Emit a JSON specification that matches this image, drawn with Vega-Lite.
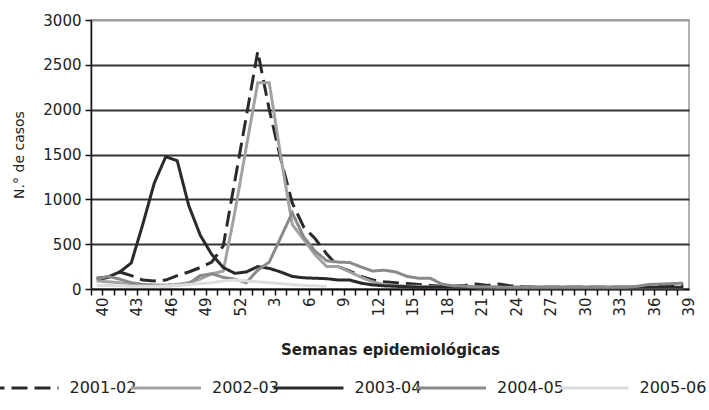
{
  "$schema": "https://vega.github.io/schema/vega-lite/v6.json",
  "width": 598,
  "height": 269,
  "autosize": {"type": "none"},
  "padding": {"left": 91, "top": 20, "right": 20, "bottom": 121},
  "config": {"font": "DejaVu Sans", "view": {"stroke": "#9a9a9a", "strokeWidth": 1.5}},
  "data": {"values": [
    {"semana":"40","temporada":"2001-02","casos":100},{"semana":"41","temporada":"2001-02","casos":130},{"semana":"42","temporada":"2001-02","casos":190},{"semana":"43","temporada":"2001-02","casos":150},{"semana":"44","temporada":"2001-02","casos":100},{"semana":"45","temporada":"2001-02","casos":90},{"semana":"46","temporada":"2001-02","casos":100},{"semana":"47","temporada":"2001-02","casos":150},{"semana":"48","temporada":"2001-02","casos":190},{"semana":"49","temporada":"2001-02","casos":240},{"semana":"50","temporada":"2001-02","casos":300},{"semana":"51","temporada":"2001-02","casos":480},{"semana":"52","temporada":"2001-02","casos":1200},
    {"semana":"1","temporada":"2001-02","casos":1920},{"semana":"2","temporada":"2001-02","casos":2650},{"semana":"3","temporada":"2001-02","casos":2000},{"semana":"4","temporada":"2001-02","casos":1450},{"semana":"5","temporada":"2001-02","casos":960},{"semana":"6","temporada":"2001-02","casos":690},{"semana":"7","temporada":"2001-02","casos":560},{"semana":"8","temporada":"2001-02","casos":390},{"semana":"9","temporada":"2001-02","casos":250},{"semana":"10","temporada":"2001-02","casos":200},{"semana":"11","temporada":"2001-02","casos":140},{"semana":"12","temporada":"2001-02","casos":100},{"semana":"13","temporada":"2001-02","casos":80},{"semana":"14","temporada":"2001-02","casos":70},{"semana":"15","temporada":"2001-02","casos":60},{"semana":"16","temporada":"2001-02","casos":50},{"semana":"17","temporada":"2001-02","casos":40},{"semana":"18","temporada":"2001-02","casos":30},{"semana":"19","temporada":"2001-02","casos":30},{"semana":"20","temporada":"2001-02","casos":40},{"semana":"21","temporada":"2001-02","casos":55},{"semana":"22","temporada":"2001-02","casos":40},{"semana":"23","temporada":"2001-02","casos":55},{"semana":"24","temporada":"2001-02","casos":35},{"semana":"25","temporada":"2001-02","casos":25},{"semana":"26","temporada":"2001-02","casos":20},{"semana":"27","temporada":"2001-02","casos":20},{"semana":"28","temporada":"2001-02","casos":20},{"semana":"29","temporada":"2001-02","casos":20},{"semana":"30","temporada":"2001-02","casos":20},{"semana":"31","temporada":"2001-02","casos":20},{"semana":"32","temporada":"2001-02","casos":20},{"semana":"33","temporada":"2001-02","casos":20},{"semana":"34","temporada":"2001-02","casos":20},{"semana":"35","temporada":"2001-02","casos":25},{"semana":"36","temporada":"2001-02","casos":30},{"semana":"37","temporada":"2001-02","casos":30},{"semana":"38","temporada":"2001-02","casos":35},{"semana":"39","temporada":"2001-02","casos":40},

    {"semana":"40","temporada":"2002-03","casos":90},{"semana":"41","temporada":"2002-03","casos":80},{"semana":"42","temporada":"2002-03","casos":70},{"semana":"43","temporada":"2002-03","casos":60},{"semana":"44","temporada":"2002-03","casos":50},{"semana":"45","temporada":"2002-03","casos":45},{"semana":"46","temporada":"2002-03","casos":45},{"semana":"47","temporada":"2002-03","casos":50},{"semana":"48","temporada":"2002-03","casos":70},{"semana":"49","temporada":"2002-03","casos":110},{"semana":"50","temporada":"2002-03","casos":170},{"semana":"51","temporada":"2002-03","casos":200},{"semana":"52","temporada":"2002-03","casos":850},
    {"semana":"1","temporada":"2002-03","casos":1580},{"semana":"2","temporada":"2002-03","casos":2300},{"semana":"3","temporada":"2002-03","casos":2300},{"semana":"4","temporada":"2002-03","casos":1480},{"semana":"5","temporada":"2002-03","casos":720},{"semana":"6","temporada":"2002-03","casos":550},{"semana":"7","temporada":"2002-03","casos":380},{"semana":"8","temporada":"2002-03","casos":250},{"semana":"9","temporada":"2002-03","casos":250},{"semana":"10","temporada":"2002-03","casos":190},{"semana":"11","temporada":"2002-03","casos":130},{"semana":"12","temporada":"2002-03","casos":80},{"semana":"13","temporada":"2002-03","casos":50},{"semana":"14","temporada":"2002-03","casos":40},{"semana":"15","temporada":"2002-03","casos":30},{"semana":"16","temporada":"2002-03","casos":30},{"semana":"17","temporada":"2002-03","casos":25},{"semana":"18","temporada":"2002-03","casos":20},{"semana":"19","temporada":"2002-03","casos":20},{"semana":"20","temporada":"2002-03","casos":20},{"semana":"21","temporada":"2002-03","casos":15},{"semana":"22","temporada":"2002-03","casos":15},{"semana":"23","temporada":"2002-03","casos":15},{"semana":"24","temporada":"2002-03","casos":15},{"semana":"25","temporada":"2002-03","casos":15},{"semana":"26","temporada":"2002-03","casos":15},{"semana":"27","temporada":"2002-03","casos":15},{"semana":"28","temporada":"2002-03","casos":15},{"semana":"29","temporada":"2002-03","casos":15},{"semana":"30","temporada":"2002-03","casos":15},{"semana":"31","temporada":"2002-03","casos":15},{"semana":"32","temporada":"2002-03","casos":15},{"semana":"33","temporada":"2002-03","casos":15},{"semana":"34","temporada":"2002-03","casos":15},{"semana":"35","temporada":"2002-03","casos":15},{"semana":"36","temporada":"2002-03","casos":15},{"semana":"37","temporada":"2002-03","casos":15},{"semana":"38","temporada":"2002-03","casos":15},{"semana":"39","temporada":"2002-03","casos":15},

    {"semana":"40","temporada":"2003-04","casos":120},{"semana":"41","temporada":"2003-04","casos":135},{"semana":"42","temporada":"2003-04","casos":190},{"semana":"43","temporada":"2003-04","casos":290},{"semana":"44","temporada":"2003-04","casos":720},{"semana":"45","temporada":"2003-04","casos":1180},{"semana":"46","temporada":"2003-04","casos":1475},{"semana":"47","temporada":"2003-04","casos":1430},{"semana":"48","temporada":"2003-04","casos":930},{"semana":"49","temporada":"2003-04","casos":600},{"semana":"50","temporada":"2003-04","casos":385},{"semana":"51","temporada":"2003-04","casos":240},{"semana":"52","temporada":"2003-04","casos":175},
    {"semana":"1","temporada":"2003-04","casos":190},{"semana":"2","temporada":"2003-04","casos":250},{"semana":"3","temporada":"2003-04","casos":230},{"semana":"4","temporada":"2003-04","casos":190},{"semana":"5","temporada":"2003-04","casos":140},{"semana":"6","temporada":"2003-04","casos":125},{"semana":"7","temporada":"2003-04","casos":120},{"semana":"8","temporada":"2003-04","casos":115},{"semana":"9","temporada":"2003-04","casos":100},{"semana":"10","temporada":"2003-04","casos":100},{"semana":"11","temporada":"2003-04","casos":65},{"semana":"12","temporada":"2003-04","casos":45},{"semana":"13","temporada":"2003-04","casos":35},{"semana":"14","temporada":"2003-04","casos":30},{"semana":"15","temporada":"2003-04","casos":25},{"semana":"16","temporada":"2003-04","casos":20},{"semana":"17","temporada":"2003-04","casos":20},{"semana":"18","temporada":"2003-04","casos":20},{"semana":"19","temporada":"2003-04","casos":20},{"semana":"20","temporada":"2003-04","casos":20},{"semana":"21","temporada":"2003-04","casos":20},{"semana":"22","temporada":"2003-04","casos":20},{"semana":"23","temporada":"2003-04","casos":20},{"semana":"24","temporada":"2003-04","casos":20},{"semana":"25","temporada":"2003-04","casos":20},{"semana":"26","temporada":"2003-04","casos":20},{"semana":"27","temporada":"2003-04","casos":20},{"semana":"28","temporada":"2003-04","casos":20},{"semana":"29","temporada":"2003-04","casos":20},{"semana":"30","temporada":"2003-04","casos":20},{"semana":"31","temporada":"2003-04","casos":20},{"semana":"32","temporada":"2003-04","casos":20},{"semana":"33","temporada":"2003-04","casos":20},{"semana":"34","temporada":"2003-04","casos":20},{"semana":"35","temporada":"2003-04","casos":20},{"semana":"36","temporada":"2003-04","casos":20},{"semana":"37","temporada":"2003-04","casos":20},{"semana":"38","temporada":"2003-04","casos":20},{"semana":"39","temporada":"2003-04","casos":20},

    {"semana":"40","temporada":"2004-05","casos":110},{"semana":"41","temporada":"2004-05","casos":140},{"semana":"42","temporada":"2004-05","casos":110},{"semana":"43","temporada":"2004-05","casos":70},{"semana":"44","temporada":"2004-05","casos":50},{"semana":"45","temporada":"2004-05","casos":40},{"semana":"46","temporada":"2004-05","casos":35},{"semana":"47","temporada":"2004-05","casos":40},{"semana":"48","temporada":"2004-05","casos":60},{"semana":"49","temporada":"2004-05","casos":150},{"semana":"50","temporada":"2004-05","casos":170},{"semana":"51","temporada":"2004-05","casos":130},{"semana":"52","temporada":"2004-05","casos":110},
    {"semana":"1","temporada":"2004-05","casos":70},{"semana":"2","temporada":"2004-05","casos":210},{"semana":"3","temporada":"2004-05","casos":300},{"semana":"4","temporada":"2004-05","casos":575},{"semana":"5","temporada":"2004-05","casos":850},{"semana":"6","temporada":"2004-05","casos":580},{"semana":"7","temporada":"2004-05","casos":420},{"semana":"8","temporada":"2004-05","casos":315},{"semana":"9","temporada":"2004-05","casos":300},{"semana":"10","temporada":"2004-05","casos":295},{"semana":"11","temporada":"2004-05","casos":245},{"semana":"12","temporada":"2004-05","casos":200},{"semana":"13","temporada":"2004-05","casos":210},{"semana":"14","temporada":"2004-05","casos":190},{"semana":"15","temporada":"2004-05","casos":140},{"semana":"16","temporada":"2004-05","casos":120},{"semana":"17","temporada":"2004-05","casos":120},{"semana":"18","temporada":"2004-05","casos":55},{"semana":"19","temporada":"2004-05","casos":35},{"semana":"20","temporada":"2004-05","casos":30},{"semana":"21","temporada":"2004-05","casos":25},{"semana":"22","temporada":"2004-05","casos":25},{"semana":"23","temporada":"2004-05","casos":20},{"semana":"24","temporada":"2004-05","casos":20},{"semana":"25","temporada":"2004-05","casos":20},{"semana":"26","temporada":"2004-05","casos":20},{"semana":"27","temporada":"2004-05","casos":20},{"semana":"28","temporada":"2004-05","casos":20},{"semana":"29","temporada":"2004-05","casos":20},{"semana":"30","temporada":"2004-05","casos":20},{"semana":"31","temporada":"2004-05","casos":20},{"semana":"32","temporada":"2004-05","casos":20},{"semana":"33","temporada":"2004-05","casos":20},{"semana":"34","temporada":"2004-05","casos":20},{"semana":"35","temporada":"2004-05","casos":30},{"semana":"36","temporada":"2004-05","casos":50},{"semana":"37","temporada":"2004-05","casos":55},{"semana":"38","temporada":"2004-05","casos":60},{"semana":"39","temporada":"2004-05","casos":65},

    {"semana":"40","temporada":"2005-06","casos":40},{"semana":"41","temporada":"2005-06","casos":40},{"semana":"42","temporada":"2005-06","casos":35},{"semana":"43","temporada":"2005-06","casos":30},{"semana":"44","temporada":"2005-06","casos":30},{"semana":"45","temporada":"2005-06","casos":30},{"semana":"46","temporada":"2005-06","casos":35},{"semana":"47","temporada":"2005-06","casos":40},{"semana":"48","temporada":"2005-06","casos":50},{"semana":"49","temporada":"2005-06","casos":60},{"semana":"50","temporada":"2005-06","casos":70},{"semana":"51","temporada":"2005-06","casos":90},{"semana":"52","temporada":"2005-06","casos":100},
    {"semana":"1","temporada":"2005-06","casos":90},{"semana":"2","temporada":"2005-06","casos":80},{"semana":"3","temporada":"2005-06","casos":70},{"semana":"4","temporada":"2005-06","casos":60},{"semana":"5","temporada":"2005-06","casos":50},{"semana":"6","temporada":"2005-06","casos":40},{"semana":"7","temporada":"2005-06","casos":35},{"semana":"8","temporada":"2005-06","casos":30}
  ]},
  "mark": {"type": "line", "strokeWidth": 3},
  "encoding": {
    "x": {
      "field": "semana",
      "type": "nominal",
      "bandPosition": 0.5,
      "sort": null,
      "scale": {
        "type": "band",
        "paddingInner": 0,
        "paddingOuter": 0,
        "domain": ["40","41","42","43","44","45","46","47","48","49","50","51","52","1","2","3","4","5","6","7","8","9","10","11","12","13","14","15","16","17","18","19","20","21","22","23","24","25","26","27","28","29","30","31","32","33","34","35","36","37","38","39"]
      },
      "axis": {
        "title": "Semanas epidemiológicas",
        "titleFontSize": 15,
        "titleFontWeight": "bold",
        "titleColor": "#222222",
        "titlePadding": 26,
        "labelAngle": 270,
        "labelFontSize": 15,
        "labelColor": "#222222",
        "labelOverlap": false,
        "labelExpr": "indexof(['40','43','46','49','52','3','6','9','12','15','18','21','24','27','30','33','36','39'], datum.label) >= 0 ? datum.label : ''",
        "bandPosition": 0,
        "labelOffset": 5.75,
        "labelPadding": 2,
        "tickSize": 6,
        "tickColor": "#111111",
        "tickWidth": 1.5,
        "domainColor": "#111111",
        "domainWidth": 1.5,
        "grid": false
      }
    },
    "y": {
      "field": "casos",
      "type": "quantitative",
      "scale": {"domain": [0, 3000], "nice": false},
      "axis": {
        "title": "N.° de casos",
        "format": "d",
        "values": [0, 500, 1000, 1500, 2000, 2500, 3000],
        "titleFontSize": 14,
        "titleFontWeight": "normal",
        "titleColor": "#222222",
        "titlePadding": 16,
        "labelFontSize": 15,
        "labelColor": "#222222",
        "labelPadding": 4,
        "tickSize": 6,
        "tickColor": "#111111",
        "tickWidth": 1.5,
        "domainColor": "#111111",
        "domainWidth": 1.5,
        "grid": true,
        "gridColor": {"condition": {"test": "datum.value === 3000", "value": "#9a9a9a"}, "value": "#333333"},
        "gridWidth": 2
      }
    },
    "color": {
      "field": "temporada",
      "type": "nominal",
      "scale": {
        "domain": ["2001-02","2002-03","2003-04","2004-05","2005-06"],
        "range": ["#2a2a2a","#a2a2a2","#2a2a2a","#8a8a8a","#dddddd"]
      },
      "legend": {
        "title": null,
        "orient": "none",
        "legendX": -75.5,
        "legendY": 360,
        "direction": "horizontal",
        "columns": 5,
        "symbolType": "M-7,0H7",
        "symbolSize": 100,
        "symbolStrokeWidth": 3,
        "labelFontSize": 16,
        "labelColor": "#222222",
        "labelOffset": 38,
        "columnPadding": -11.5,
        "padding": 0
      }
    },
    "strokeDash": {
      "field": "temporada",
      "type": "nominal",
      "scale": {
        "domain": ["2001-02","2002-03","2003-04","2004-05","2005-06"],
        "range": [[16,7],[1,0],[1,0],[1,0],[1,0]]
      },
      "legend": {
        "title": null,
        "orient": "none",
        "legendX": -75.5,
        "legendY": 360,
        "direction": "horizontal",
        "columns": 5,
        "symbolType": "M-7,0H7",
        "symbolSize": 100,
        "symbolStrokeWidth": 3,
        "labelFontSize": 16,
        "labelColor": "#222222",
        "labelOffset": 38,
        "columnPadding": -11.5,
        "padding": 0
      }
    }
  }
}
